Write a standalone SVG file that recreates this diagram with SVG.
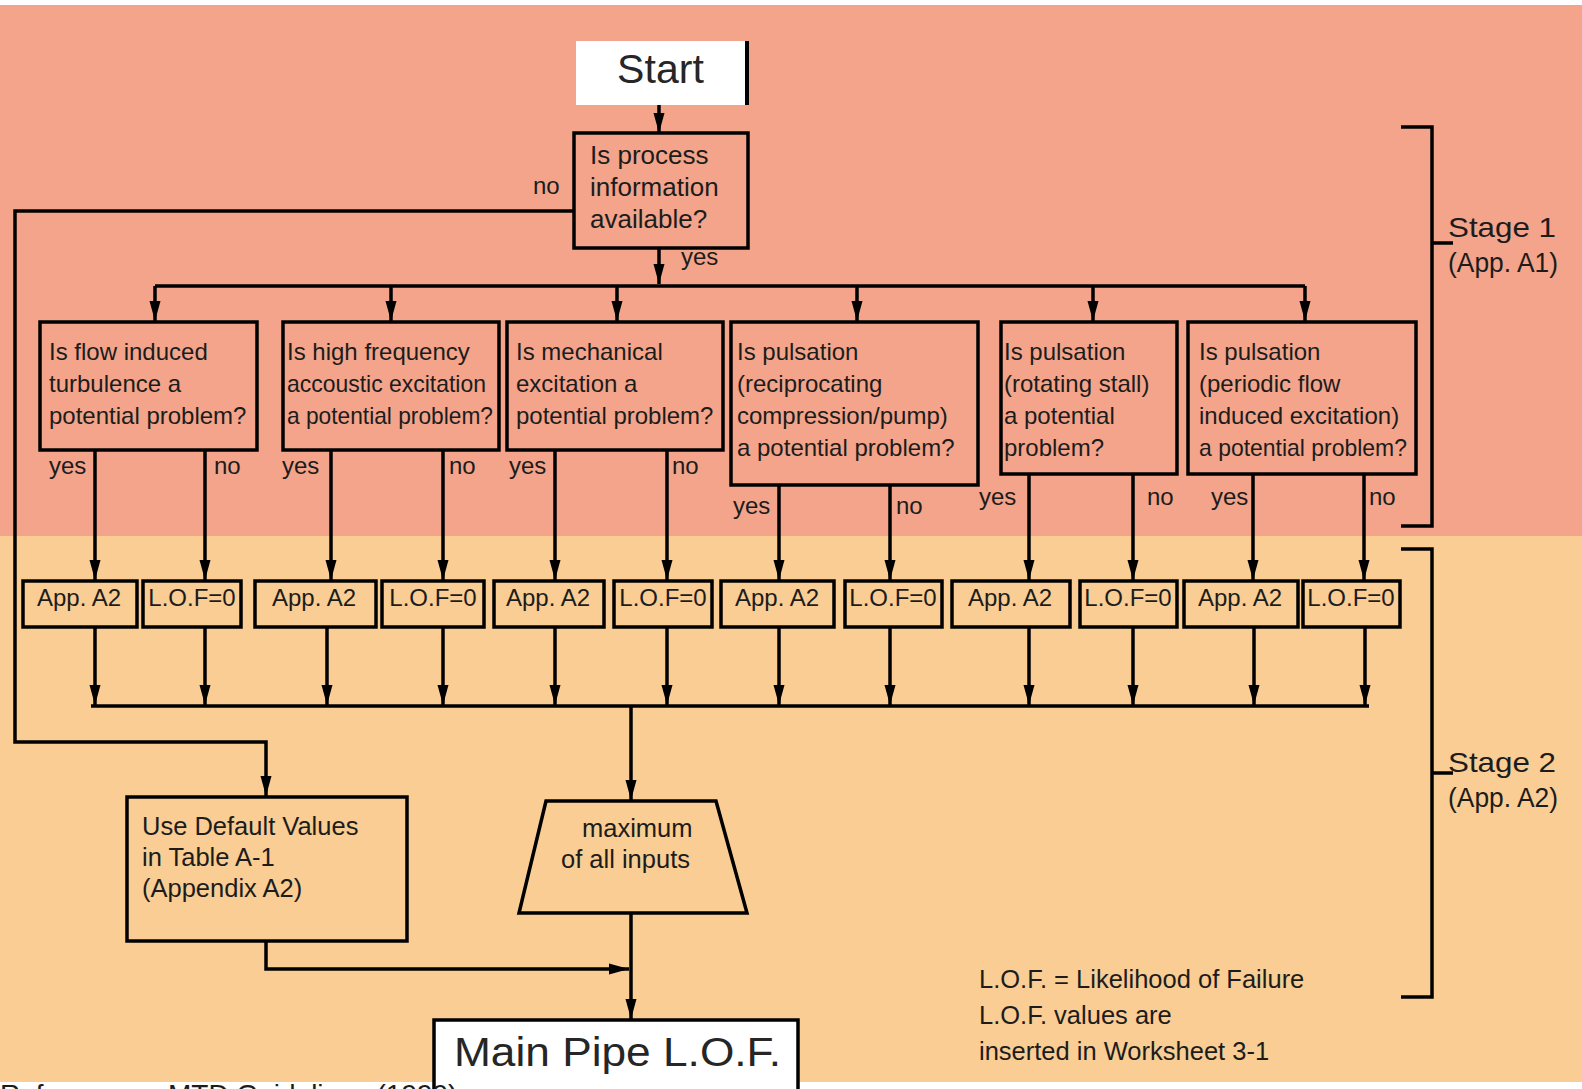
<svg xmlns="http://www.w3.org/2000/svg" width="1582" height="1089" viewBox="0 0 1582 1089">
  <defs>
    <marker id="ah" markerUnits="userSpaceOnUse" markerWidth="20" markerHeight="12" refX="20" refY="6" orient="auto">
      <path d="M0,0.5 L20,6 L0,11.5 z" fill="#000"/>
    </marker>
    <style>
      text { font-family: "Liberation Sans", Arial, sans-serif; fill: #1c1c1c; }
      .box { fill: none; stroke: #000; stroke-width: 3.5; }
      .wbox { fill: #fff; stroke: #000; stroke-width: 3.5; }
      .q { font-size: 24px; }
      .dq { font-size: 26px; }
      .lbl { font-size: 24px; }
      .sm { font-size: 24px; text-anchor: middle; }
      .mid { font-size: 25.5px; }
      .stage { font-size: 28px; }
      .big { font-size: 41px; fill: #262626; }
      .wire { fill: none; stroke: #000; stroke-width: 3.5; }
      .arr { fill: none; stroke: #000; stroke-width: 3.5; marker-end: url(#ah); }
    </style>
  </defs>

  <!-- stage bands -->
  <rect x="0" y="0" width="1582" height="1089" fill="#fff"/>
  <rect x="0" y="5" width="1582" height="531" fill="#F3A48A"/>
  <rect x="0" y="536" width="1582" height="546" fill="#F9CD93"/>

  <!-- connectors -->
  <g id="connectors">
    <path class="arr" d="M659,105 V133"/>
    <path class="arr" d="M659,248 V284"/>
    <path class="wire" d="M155,286 H1305"/>
    <path class="arr" d="M155,286 V321"/>
    <path class="arr" d="M391,286 V321"/>
    <path class="arr" d="M617,286 V321"/>
    <path class="arr" d="M857,286 V321"/>
    <path class="arr" d="M1093,286 V321"/>
    <path class="arr" d="M1305,286 V321"/>
    <!-- no branch to default values -->
    <path class="arr" d="M574,211 H15 V742 H266 V796"/>
    <!-- question outcomes -->
    <path class="arr" d="M95,450 V580"/>
    <path class="arr" d="M205,450 V580"/>
    <path class="arr" d="M331,450 V580"/>
    <path class="arr" d="M443,450 V580"/>
    <path class="arr" d="M555,450 V580"/>
    <path class="arr" d="M667,450 V580"/>
    <path class="arr" d="M779,485 V580"/>
    <path class="arr" d="M890,485 V580"/>
    <path class="arr" d="M1029,474 V580"/>
    <path class="arr" d="M1133,474 V580"/>
    <path class="arr" d="M1253,474 V580"/>
    <path class="arr" d="M1364,474 V580"/>
    <!-- results to collector -->
    <path class="arr" d="M95,627 V705"/>
    <path class="arr" d="M205,627 V705"/>
    <path class="arr" d="M327,627 V705"/>
    <path class="arr" d="M443,627 V705"/>
    <path class="arr" d="M555,627 V705"/>
    <path class="arr" d="M667,627 V705"/>
    <path class="arr" d="M779,627 V705"/>
    <path class="arr" d="M890,627 V705"/>
    <path class="arr" d="M1029,627 V705"/>
    <path class="arr" d="M1133,627 V705"/>
    <path class="arr" d="M1254,627 V705"/>
    <path class="arr" d="M1365,627 V705"/>
    <path class="wire" d="M91,706 H1369"/>
    <path class="arr" d="M631,706 V800"/>
    <path class="arr" d="M631,913 V1019"/>
    <path class="arr" d="M266,941 V969 H629"/>
  </g>

  <!-- stage brackets -->
  <g id="stage1">
    <path class="wire" d="M1401,127 H1432 V526 H1401 M1432,243 H1453"/>
    <text class="stage" x="1448" y="237" textLength="108" lengthAdjust="spacingAndGlyphs">Stage 1</text>
    <text class="stage" x="1448" y="272" textLength="110" lengthAdjust="spacingAndGlyphs">(App. A1)</text>
  </g>
  <g id="stage2">
    <path class="wire" d="M1401,549 H1432 V997 H1401 M1432,773 H1453"/>
    <text class="stage" x="1448" y="772" textLength="108" lengthAdjust="spacingAndGlyphs">Stage 2</text>
    <text class="stage" x="1448" y="807" textLength="110" lengthAdjust="spacingAndGlyphs">(App. A2)</text>
  </g>

  <g id="start">
    <rect x="576" y="41" width="169" height="64" fill="#fff"/>
    <path d="M747,41 V105" stroke="#000" stroke-width="4"/>
    <text class="big" x="617" y="83" textLength="87">Start</text>
  </g>

  <g id="process-info">
    <rect class="box" x="574" y="133" width="174" height="115"/>
    <text class="dq" x="590" y="164">Is process</text>
    <text class="dq" x="590" y="196">information</text>
    <text class="dq" x="590" y="228">available?</text>
    <text class="lbl" x="533" y="194">no</text>
    <text class="lbl" x="681" y="265">yes</text>
  </g>

  <g id="q-flow-turbulence">
    <rect class="box" x="40" y="322" width="217" height="128"/>
    <text class="q" x="49" y="360">Is flow induced</text>
    <text class="q" x="49" y="392">turbulence a</text>
    <text class="q" x="49" y="424">potential problem?</text>
    <text class="lbl" x="49" y="474">yes</text>
    <text class="lbl" x="214" y="474">no</text>
  </g>
  <g id="q-acoustic">
    <rect class="box" x="283" y="322" width="216" height="128"/>
    <text class="q" x="287" y="360">Is high frequency</text>
    <text class="q" x="287" y="392" textLength="199" lengthAdjust="spacingAndGlyphs">accoustic excitation</text>
    <text class="q" x="287" y="424" textLength="206" lengthAdjust="spacingAndGlyphs">a potential problem?</text>
    <text class="lbl" x="282" y="474">yes</text>
    <text class="lbl" x="449" y="474">no</text>
  </g>
  <g id="q-mechanical">
    <rect class="box" x="507" y="322" width="216" height="128"/>
    <text class="q" x="516" y="360">Is mechanical</text>
    <text class="q" x="516" y="392">excitation a</text>
    <text class="q" x="516" y="424">potential problem?</text>
    <text class="lbl" x="509" y="474">yes</text>
    <text class="lbl" x="672" y="474">no</text>
  </g>
  <g id="q-pulsation-reciprocating">
    <rect class="box" x="731" y="322" width="247" height="163"/>
    <text class="q" x="737" y="360">Is pulsation</text>
    <text class="q" x="737" y="392">(reciprocating</text>
    <text class="q" x="737" y="424">compression/pump)</text>
    <text class="q" x="737" y="456">a potential problem?</text>
    <text class="lbl" x="733" y="514">yes</text>
    <text class="lbl" x="896" y="514">no</text>
  </g>
  <g id="q-pulsation-stall">
    <rect class="box" x="1001" y="322" width="176" height="152"/>
    <text class="q" x="1004" y="360">Is pulsation</text>
    <text class="q" x="1004" y="392">(rotating stall)</text>
    <text class="q" x="1004" y="424">a potential</text>
    <text class="q" x="1004" y="456">problem?</text>
    <text class="lbl" x="979" y="505">yes</text>
    <text class="lbl" x="1147" y="505">no</text>
  </g>
  <g id="q-pulsation-periodic">
    <rect class="box" x="1188" y="322" width="228" height="152"/>
    <text class="q" x="1199" y="360">Is pulsation</text>
    <text class="q" x="1199" y="392">(periodic flow</text>
    <text class="q" x="1199" y="424">induced excitation)</text>
    <text class="q" x="1199" y="456" textLength="208" lengthAdjust="spacingAndGlyphs">a potential problem?</text>
    <text class="lbl" x="1211" y="505">yes</text>
    <text class="lbl" x="1369" y="505">no</text>
  </g>

  <!-- stage 2 results -->
  <g id="r1-app"><rect class="box" x="23" y="581" width="114" height="46"/><text class="sm" x="79" y="606">App. A2</text></g>
  <g id="r1-lof"><rect class="box" x="143" y="581" width="98" height="46"/><text class="sm" x="192" y="606">L.O.F=0</text></g>
  <g id="r2-app"><rect class="box" x="255" y="581" width="121" height="46"/><text class="sm" x="314" y="606">App. A2</text></g>
  <g id="r2-lof"><rect class="box" x="382" y="581" width="102" height="46"/><text class="sm" x="433" y="606">L.O.F=0</text></g>
  <g id="r3-app"><rect class="box" x="494" y="581" width="110" height="46"/><text class="sm" x="548" y="606">App. A2</text></g>
  <g id="r3-lof"><rect class="box" x="614" y="581" width="98" height="46"/><text class="sm" x="663" y="606">L.O.F=0</text></g>
  <g id="r4-app"><rect class="box" x="721" y="581" width="113" height="46"/><text class="sm" x="777" y="606">App. A2</text></g>
  <g id="r4-lof"><rect class="box" x="845" y="581" width="97" height="46"/><text class="sm" x="893" y="606">L.O.F=0</text></g>
  <g id="r5-app"><rect class="box" x="952" y="581" width="118" height="46"/><text class="sm" x="1010" y="606">App. A2</text></g>
  <g id="r5-lof"><rect class="box" x="1080" y="581" width="97" height="46"/><text class="sm" x="1128" y="606">L.O.F=0</text></g>
  <g id="r6-app"><rect class="box" x="1184" y="581" width="114" height="46"/><text class="sm" x="1240" y="606">App. A2</text></g>
  <g id="r6-lof"><rect class="box" x="1303" y="581" width="97" height="46"/><text class="sm" x="1351" y="606">L.O.F=0</text></g>

  <g id="default-values">
    <rect class="box" x="127" y="797" width="280" height="144"/>
    <text class="mid" x="142" y="835">Use Default Values</text>
    <text class="mid" x="142" y="866">in Table A-1</text>
    <text class="mid" x="142" y="897">(Appendix A2)</text>
  </g>

  <g id="maximum">
    <polygon class="box" points="546,801 716,801 747,913 519,913"/>
    <text class="mid" x="582" y="837" font-size="26">maximum</text>
    <text class="mid" x="561" y="868" font-size="26">of all inputs</text>
  </g>

  <g id="legend">
    <text class="mid" x="979" y="988">L.O.F. = Likelihood of Failure</text>
    <text class="mid" x="979" y="1024">L.O.F. values are</text>
    <text class="mid" x="979" y="1060">inserted in Worksheet 3-1</text>
  </g>

  <g id="main-pipe-lof">
    <rect class="wbox" x="434" y="1020" width="364" height="90"/>
    <text class="big" x="454" y="1066" font-size="44" textLength="327" lengthAdjust="spacingAndGlyphs">Main Pipe L.O.F.</text>
  </g>

  <g id="reference">
    <text x="0" y="1104" font-size="28" fill="#000">Reference:</text>
    <text x="168" y="1104" font-size="28" fill="#000">MTD Guidelines (1999)</text>
  </g>
</svg>
